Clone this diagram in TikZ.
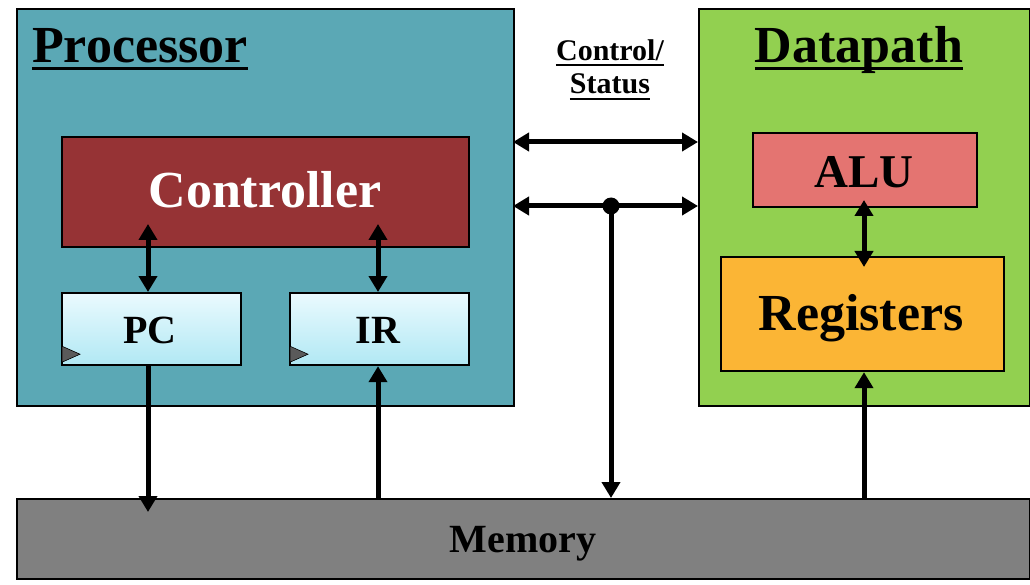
\documentclass[tikz,border=0pt]{standalone}
\usepackage{fontspec}
\setmainfont{Liberation Serif}
\usetikzlibrary{arrows.meta}
\definecolor{proccol}{HTML}{5BA8B5}
\definecolor{dpcol}{HTML}{92D050}
\definecolor{ctrlcol}{HTML}{963335}
\definecolor{alucol}{HTML}{E47471}
\definecolor{regcol}{HTML}{FBB535}
\definecolor{memcol}{HTML}{808080}
\definecolor{regtop}{HTML}{EAFAFE}
\definecolor{regbot}{HTML}{B1E8F4}
\definecolor{clkcol}{HTML}{5A5A5A}
\tikzset{
  blk/.style={draw=black, line width=2.2pt, anchor=north west, inner sep=0pt, font=\bfseries},
  regbox/.style={blk, top color=regtop, bottom color=regbot, minimum width=179pt, minimum height=72pt},
  txt/.style={anchor=base, inner sep=0pt},
  title/.style={txt, font=\bfseries\fontsize{52}{52}\selectfont},
  ulbar/.style={line width=3pt},
  bus/.style={line width=5pt, -{Triangle[width=18pt,length=16pt]}},
  dbus/.style={line width=5pt, {Triangle[width=18pt,length=16pt]}-{Triangle[width=18pt,length=16pt]}},
  clk/.style={fill=clkcol, draw=black, line width=0.6pt}
}
\begin{document}
\begin{tikzpicture}[x=1pt,y=-1pt]
\useasboundingbox (0,0) rectangle (1030,585);
% main blocks
\node[blk, fill=proccol, minimum width=497pt, minimum height=397pt] (proc) at (16,8) {};
\node[blk, fill=dpcol, minimum width=331pt, minimum height=397pt] (dp) at (698,8) {};
\node[blk, fill=memcol, minimum width=1013pt, minimum height=80pt] (mem) at (16,498) {};
\node[txt, font=\bfseries\fontsize{40}{40}\selectfont] (memtxt) at (523,552) {Memory};
% titles
\node[title] (ptitle) at (140,63) {Processor};
\draw[ulbar] ([yshift=-6pt]ptitle.base west) -- ([yshift=-6pt]ptitle.base east);
\node[title] (dtitle) at (859,63) {Datapath};
\draw[ulbar] ([yshift=-6pt]dtitle.base west) -- ([yshift=-6pt]dtitle.base east);
% control/status label
\node[txt, font=\bfseries\fontsize{30}{30}\selectfont] (cs1) at (610,61) {Control/};
\draw[line width=2.2pt] ([yshift=-4pt]cs1.base west) -- ([yshift=-4pt]cs1.base east);
\node[txt, font=\bfseries\fontsize{30}{30}\selectfont] (cs2) at (610,94) {Status};
\draw[line width=2.2pt] ([yshift=-5pt]cs2.base west) -- ([yshift=-5pt]cs2.base east);
% processor internals
\node[blk, fill=ctrlcol, minimum width=407pt, minimum height=110pt] (ctrl) at (61,136) {};
\node[txt, text=white, font=\bfseries\fontsize{52}{52}\selectfont] (ctrltxt) at (265,208) {Controller};
\node[regbox] (pc) at (61,292) {};
\node[txt, font=\bfseries\fontsize{40}{40}\selectfont] (pctxt) at (150,343) {PC};
\node[regbox] (ir) at (289,292) {};
\node[txt, font=\bfseries\fontsize{40}{40}\selectfont] (irtxt) at (378,343) {IR};
\draw[clk] (pc.south west) ++(1,-4) -- ++(18,-8) -- ++(-18,-8) -- cycle;
\draw[clk] (ir.south west) ++(1,-4) -- ++(18,-8) -- ++(-18,-8) -- cycle;
% datapath internals
\node[blk, fill=alucol, minimum width=224pt, minimum height=74pt] (alu) at (752,132) {};
\node[txt, font=\bfseries\fontsize{47}{47}\selectfont] (alutxt) at (864,188) {ALU};
\node[blk, fill=regcol, minimum width=283pt, minimum height=114pt] (regs) at (720,256) {};
\node[txt, font=\bfseries\fontsize{52}{52}\selectfont] (regtxt) at (861,330) {Registers};
% connectors
\coordinate (c1) at (148,224);
\coordinate (c2) at (378,224);
\draw[dbus] (c1) -- (c1 |- pc.north);
\draw[dbus] (c2) -- (c2 |- ir.north);
\coordinate (m1) at (148,512);
\draw[bus] (m1 |- pc.south) -- (m1);
\draw[bus] (c2 |- mem.north) -- (c2 |- ir.south);
\coordinate (a1) at (864,200);
\coordinate (a2) at (864,267);
\draw[dbus] (a1) -- (a2);
\draw[bus] (a1 |- mem.north) -- (a1 |- regs.south);
\coordinate (b1) at (513,142);
\coordinate (b2) at (698,142);
\draw[dbus] (b1) -- (b2);
\coordinate (b3) at (513,206);
\coordinate (b4) at (698,206);
\draw[dbus] (b3) -- (b4);
\coordinate (dot) at (611,206);
\draw[bus] (dot) -- (dot |- mem.north);
\fill (dot) circle (8.5pt);
\end{tikzpicture}
\end{document}
